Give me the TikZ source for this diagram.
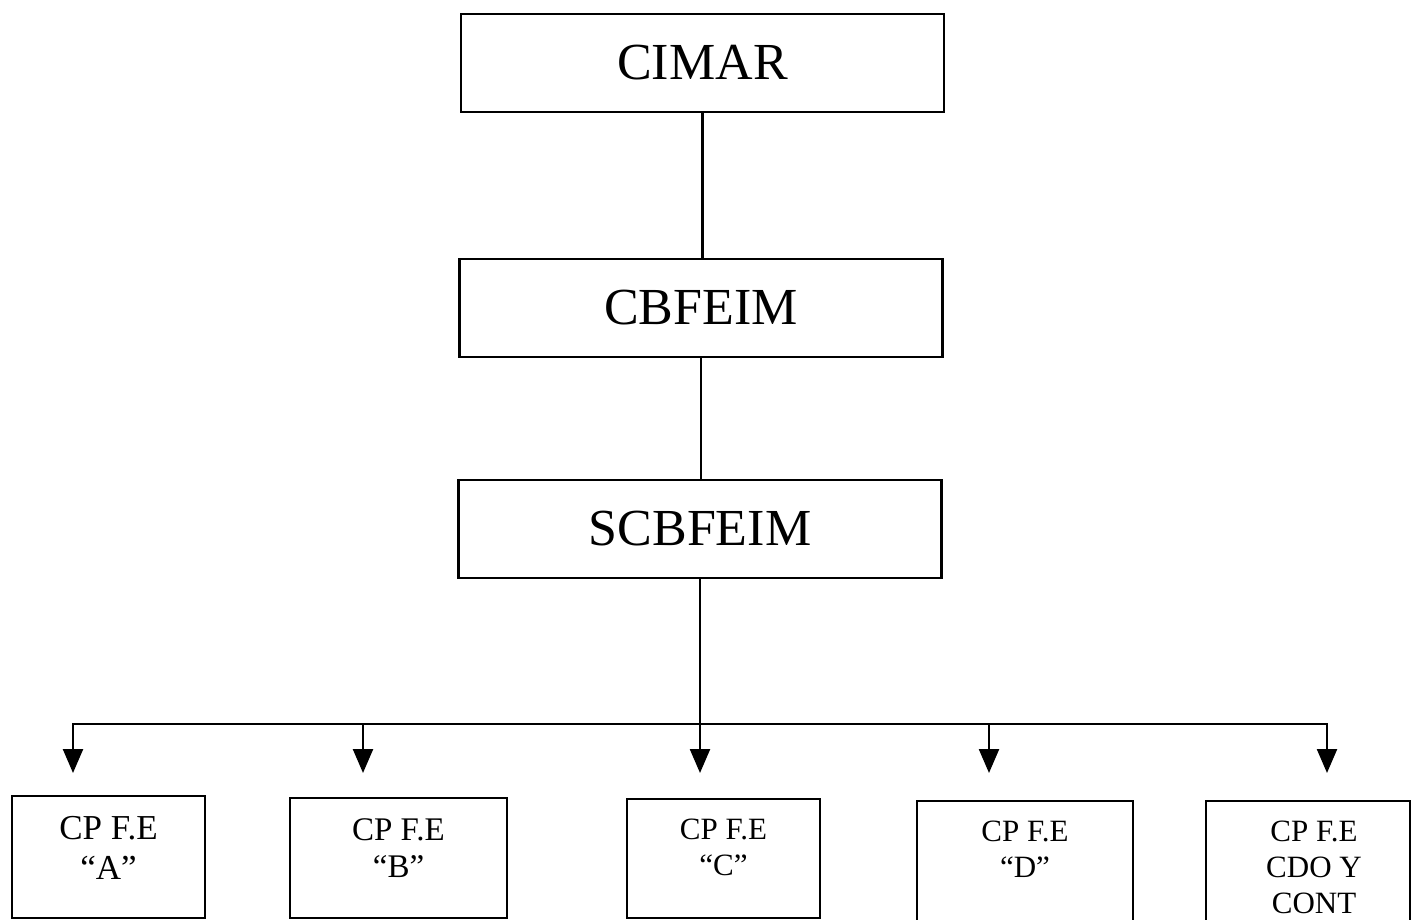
\documentclass[tikz,border=0pt]{standalone}
\usepackage{fontspec}
\setmainfont{Liberation Serif}
\usetikzlibrary{arrows.meta}

\begin{document}
\begin{tikzpicture}[x=1pt,y=-1pt,
        headbox/.style={draw=black, line width=2.4pt, inner sep=0pt, minimum width=483pt, minimum height=98pt, font=\fontsize{52}{60}\selectfont},
        unitbox/.style={draw=black, line width=2.4pt, inner sep=0pt, anchor=north},
        unittext/.style={anchor=north, inner sep=0pt, yshift=-21pt, align=center, font=\fontsize{31}{36}\selectfont},
        link/.style={black, line width=2.4pt, line cap=rect},
        tip/.style={black, line width=2.4pt, -{Triangle[width=20pt,length=24pt]}}]
        \clip (0,0) rectangle (1416,920);
        % upper chain
        \node [headbox] (cimar) at (702.5,63) {CIMAR};
        \node [headbox] (cbfeim) at (701,308) {CBFEIM};
        \node [headbox] (scbfeim) at (700,529) {SCBFEIM};
        \draw [link] (cimar.south) -- (cimar.south |- cbfeim.north);
        \draw [link] (cbfeim.south) -- (cbfeim.south |- scbfeim.north);
        % units
        \node [unitbox, minimum width=193pt, minimum height=122pt,
            label={[unittext, font=\fontsize{35}{40}\selectfont]north:CP F.E\\“A”}] (cpa) at (108.5,795) {};
        \node [unitbox, minimum width=217pt, minimum height=120pt,
            label={[unittext, font=\fontsize{33}{37}\selectfont]north:CP F.E\\“B”}] (cpb) at (398.5,797) {};
        \node [unitbox, minimum width=193pt, minimum height=119pt,
            label={[unittext]north:CP F.E\\“C”}] (cpc) at (723.5,798) {};
        \node [unitbox, minimum width=216pt, minimum height=160pt,
            label={[unittext]north:CP F.E\\“D”}] (cpd) at (1025,800) {};
        \node [unitbox, minimum width=204pt, minimum height=160pt,
            label={[unittext, xshift=6pt]north:CP F.E\\CDO Y\\CONT}] (cpe) at (1308,800) {};
        % distribution bar
        \coordinate (bara) at (73,724);
        \coordinate (barb) at (363,724);
        \coordinate (barc) at (scbfeim.south |- 0,724);
        \coordinate (bard) at (989,724);
        \coordinate (bare) at (1327,724);
        \coordinate (tipa) at (73,773);
        \coordinate (tipb) at (363,773);
        \coordinate (tipc) at (scbfeim.south |- 0,773);
        \coordinate (tipd) at (989,773);
        \coordinate (tipe) at (1327,773);
        \draw [link] (bara) -- (bare);
        \draw [tip] (scbfeim.south) -- (tipc);
        \draw [tip] (bara) -- (tipa);
        \draw [tip] (barb) -- (tipb);
        \draw [tip] (bard) -- (tipd);
        \draw [tip] (bare) -- (tipe);
    \end{tikzpicture}
\end{document}
